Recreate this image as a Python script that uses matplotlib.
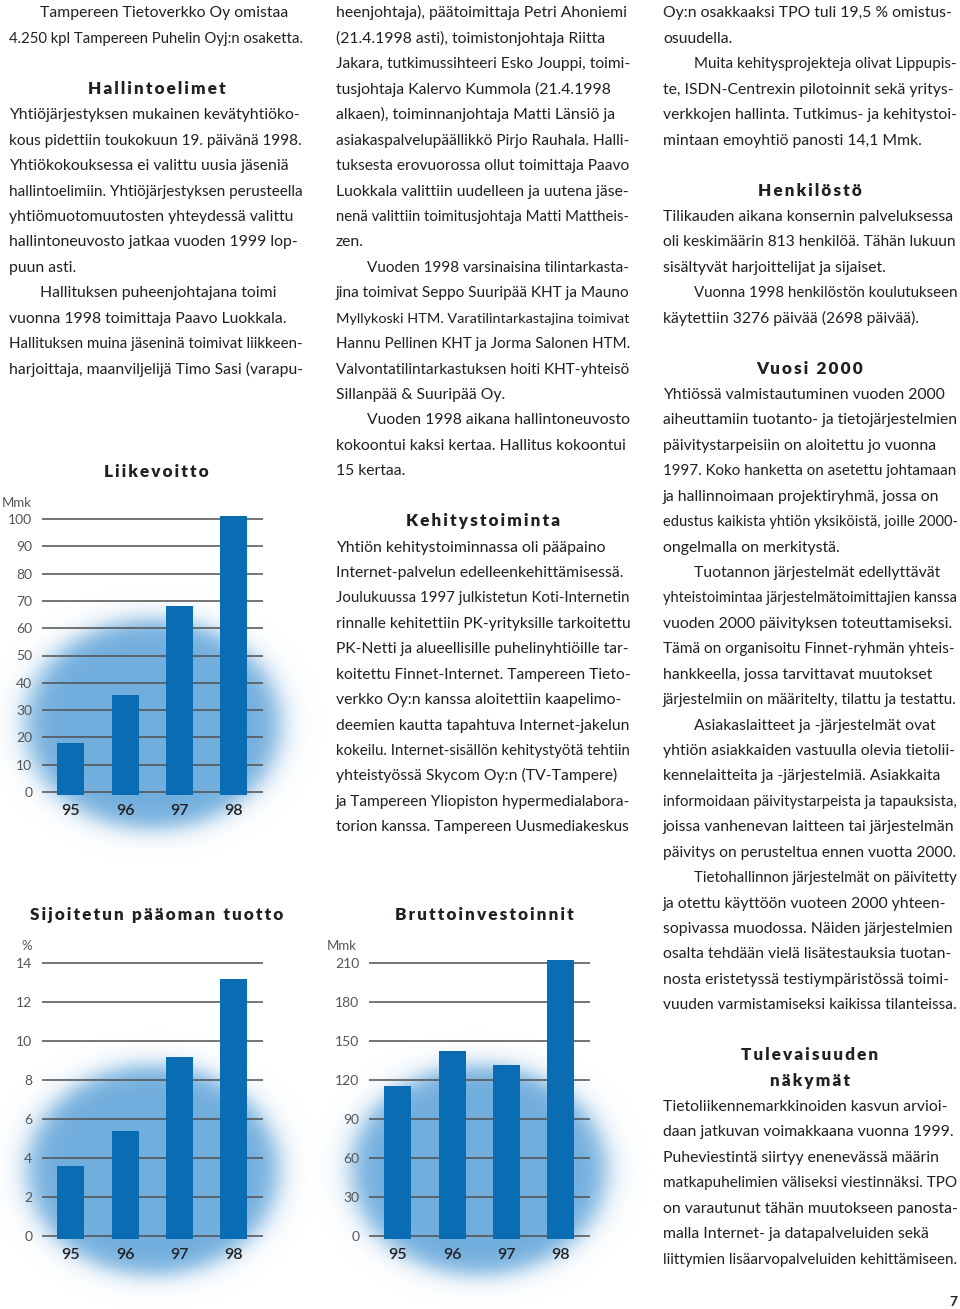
import numpy as np
import matplotlib
matplotlib.use('Agg')
import matplotlib.pyplot as plt

# ---------------- data ----------------
years = ['95', '96', '97', '98']
liikevoitto = [18.1, 35.7, 68.1, 101.2]
liike_ticks = [0, 10, 20, 30, 40, 50, 60, 70, 80, 90, 100]
sijoitetun = [3.6, 5.4, 9.2, 13.2]
roi_ticks = [0, 2, 4, 6, 8, 10, 12, 14]
brutto = [115.0, 142.6, 131.3, 212.0]
brutto_ticks = [0, 30, 60, 90, 120, 150, 180, 210]

# text columns: ('i' = indented paragraph start, 'l' = line, 'h' = heading, 'b' = blank)
col_left = [
    ('i', 'Tampereen Tietoverkko Oy omistaa'),
    ('l', '4.250 kpl Tampereen Puhelin Oyj:n osaketta.'),
    ('b', ''),
    ('h', 'Hallintoelimet'),
    ('l', 'Yhtiöjärjestyksen mukainen kevätyhtiöko-'),
    ('l', 'kous pidettiin toukokuun 19. päivänä 1998.'),
    ('l', 'Yhtiökokouksessa ei valittu uusia jäseniä'),
    ('l', 'hallintoelimiin. Yhtiöjärjestyksen perusteella'),
    ('l', 'yhtiömuotomuutosten yhteydessä valittu'),
    ('l', 'hallintoneuvosto jatkaa vuoden 1999 lop-'),
    ('l', 'puun asti.'),
    ('i', 'Hallituksen puheenjohtajana toimi'),
    ('l', 'vuonna 1998 toimittaja Paavo Luokkala.'),
    ('l', 'Hallituksen muina jäseninä toimivat liikkeen-'),
    ('l', 'harjoittaja, maanviljelijä Timo Sasi (varapu-'),
]
col_mid = [
    ('l', 'heenjohtaja), päätoimittaja Petri Ahoniemi'),
    ('l', '(21.4.1998 asti), toimistonjohtaja Riitta'),
    ('l', 'Jakara, tutkimussihteeri Esko Jouppi, toimi-'),
    ('l', 'tusjohtaja Kalervo Kummola (21.4.1998'),
    ('l', 'alkaen), toiminnanjohtaja Matti Länsiö ja'),
    ('l', 'asiakaspalvelupäällikkö Pirjo Rauhala. Halli-'),
    ('l', 'tuksesta erovuorossa ollut toimittaja Paavo'),
    ('l', 'Luokkala valittiin uudelleen ja uutena jäse-'),
    ('l', 'nenä valittiin toimitusjohtaja Matti Mattheis-'),
    ('l', 'zen.'),
    ('i', 'Vuoden 1998 varsinaisina tilintarkasta-'),
    ('l', 'jina toimivat Seppo Suuripää KHT ja Mauno'),
    ('l', 'Myllykoski HTM. Varatilintarkastajina toimivat'),
    ('l', 'Hannu Pellinen KHT ja Jorma Salonen HTM.'),
    ('l', 'Valvontatilintarkastuksen hoiti KHT-yhteisö'),
    ('l', 'Sillanpää & Suuripää Oy.'),
    ('i', 'Vuoden 1998 aikana hallintoneuvosto'),
    ('l', 'kokoontui kaksi kertaa. Hallitus kokoontui'),
    ('l', '15 kertaa.'),
    ('b', ''),
    ('h', 'Kehitystoiminta'),
    ('l', 'Yhtiön kehitystoiminnassa oli pääpaino'),
    ('l', 'Internet-palvelun edelleenkehittämisessä.'),
    ('l', 'Joulukuussa 1997 julkistetun Koti-Internetin'),
    ('l', 'rinnalle kehitettiin PK-yrityksille tarkoitettu'),
    ('l', 'PK-Netti ja alueellisille puhelinyhtiöille tar-'),
    ('l', 'koitettu Finnet-Internet. Tampereen Tieto-'),
    ('l', 'verkko Oy:n kanssa aloitettiin kaapelimo-'),
    ('l', 'deemien kautta tapahtuva Internet-jakelun'),
    ('l', 'kokeilu. Internet-sisällön kehitystyötä tehtiin'),
    ('l', 'yhteistyössä Skycom Oy:n (TV-Tampere)'),
    ('l', 'ja Tampereen Yliopiston hypermedialabora-'),
    ('l', 'torion kanssa. Tampereen Uusmediakeskus'),
]
col_right = [
    ('l', 'Oy:n osakkaaksi TPO tuli 19,5 % omistus-'),
    ('l', 'osuudella.'),
    ('i', 'Muita kehitysprojekteja olivat Lippupis-'),
    ('l', 'te, ISDN-Centrexin pilotoinnit sekä yritys-'),
    ('l', 'verkkojen hallinta. Tutkimus- ja kehitystoi-'),
    ('l', 'mintaan emoyhtiö panosti 14,1 Mmk.'),
    ('b', ''),
    ('h', 'Henkilöstö'),
    ('l', 'Tilikauden aikana konsernin palveluksessa'),
    ('l', 'oli keskimäärin 813 henkilöä. Tähän lukuun'),
    ('l', 'sisältyvät harjoittelijat ja sijaiset.'),
    ('i', 'Vuonna 1998 henkilöstön koulutukseen'),
    ('l', 'käytettiin 3276 päivää (2698 päivää).'),
    ('b', ''),
    ('h', 'Vuosi 2000'),
    ('l', 'Yhtiössä valmistautuminen vuoden 2000'),
    ('l', 'aiheuttamiin tuotanto- ja tietojärjestelmien'),
    ('l', 'päivitystarpeisiin on aloitettu jo vuonna'),
    ('l', '1997. Koko hanketta on asetettu johtamaan'),
    ('l', 'ja hallinnoimaan projektiryhmä, jossa on'),
    ('l', 'edustus kaikista yhtiön yksiköistä, joille 2000-'),
    ('l', 'ongelmalla on merkitystä.'),
    ('i', 'Tuotannon järjestelmät edellyttävät'),
    ('l', 'yhteistoimintaa järjestelmätoimittajien kanssa'),
    ('l', 'vuoden 2000 päivityksen toteuttamiseksi.'),
    ('l', 'Tämä on organisoitu Finnet-ryhmän yhteis-'),
    ('l', 'hankkeella, jossa tarvittavat muutokset'),
    ('l', 'järjestelmiin on määritelty, tilattu ja testattu.'),
    ('i', 'Asiakaslaitteet ja -järjestelmät ovat'),
    ('l', 'yhtiön asiakkaiden vastuulla olevia tietolii-'),
    ('l', 'kennelaitteita ja -järjestelmiä. Asiakkaita'),
    ('l', 'informoidaan päivitystarpeista ja tapauksista,'),
    ('l', 'joissa vanhenevan laitteen tai järjestelmän'),
    ('l', 'päivitys on perusteltua ennen vuotta 2000.'),
    ('i', 'Tietohallinnon järjestelmät on päivitetty'),
    ('l', 'ja otettu käyttöön vuoteen 2000 yhteen-'),
    ('l', 'sopivassa muodossa. Näiden järjestelmien'),
    ('l', 'osalta tehdään vielä lisätestauksia tuotan-'),
    ('l', 'nosta eristetyssä testiympäristössä toimi-'),
    ('l', 'vuuden varmistamiseksi kaikissa tilanteissa.'),
    ('b', ''),
    ('h', 'Tulevaisuuden'),
    ('h', 'näkymät'),
    ('l', 'Tietoliikennemarkkinoiden kasvun arvioi-'),
    ('l', 'daan jatkuvan voimakkaana vuonna 1999.'),
    ('l', 'Puheviestintä siirtyy enenevässä määrin'),
    ('l', 'matkapuhelimien väliseksi viestinnäksi. TPO'),
    ('l', 'on varautunut tähän muutokseen panosta-'),
    ('l', 'malla Internet- ja datapalveluiden sekä'),
    ('l', 'liittymien lisäarvopalveluiden kehittämiseen.'),
]
page_number = '7'

# ---------------- style ----------------
W, H = 960, 1309
BODY_FONT = ['Lato', 'DejaVu Sans']
TEXT_COLOR = '#231f20'
BAR_COLOR = '#0a6db3'
GRID_COLOR = '#505050'
TICK_COLOR = '#555555'
GLOW_RGB = (0.44, 0.68, 0.87)
BODY_SIZE = 11.3
HEAD_SIZE = 12.3
PITCH = 25.43
BASE0 = 17.5
COL_WIDTH = 295

fig = plt.figure(figsize=(W / 100, H / 100), dpi=100)
renderer = fig.canvas.get_renderer()

# background axes in pixel coordinates (holds glow + text)
bg = fig.add_axes([0, 0, 1, 1], zorder=-10)
bg.set_xlim(0, W)
bg.set_ylim(H, 0)
bg.axis('off')

glows = [(153, 724, 141, 116), (153, 1170, 139, 116), (479, 1170, 141, 116)]
yy, xx = np.mgrid[0:H, 0:W] + 0.5
alpha = np.zeros((H, W))
for cx, cy, rx, ry in glows:
    r = np.sqrt(((xx - cx) / rx) ** 2 + ((yy - cy) / ry) ** 2)
    alpha = np.maximum(alpha, 1.0 / (1.0 + np.exp((r - 0.9) / 0.055)))
img = np.zeros((H, W, 4))
img[..., 0], img[..., 1], img[..., 2] = GLOW_RGB
img[..., 3] = alpha
bg.imshow(img, extent=(0, W, H, 0), aspect='auto', interpolation='bilinear', zorder=0)


def spaced(s):
    return '\u2009'.join(s)


def draw_column(entries, x0, indent, center):
    right = x0 + COL_WIDTH
    for i, (kind, txt) in enumerate(entries):
        y = BASE0 + i * PITCH
        if kind == 'b':
            continue
        if kind == 'h':
            bg.text(center, y, spaced(txt), ha='center', va='baseline',
                    fontsize=HEAD_SIZE, fontweight='heavy', family=BODY_FONT,
                    color=TEXT_COLOR)
        else:
            x = indent if kind == 'i' else x0
            t = bg.text(x, y, txt, ha='left', va='baseline', fontsize=BODY_SIZE,
                        fontweight='normal', family=BODY_FONT, color=TEXT_COLOR)
            w = t.get_window_extent(renderer).width
            avail = right - x
            if w > avail:
                t.set_fontsize(BODY_SIZE * avail / w)


draw_column(col_left, 9, 40, 157)
draw_column(col_mid, 336, 367, 483)
draw_column(col_right, 663, 694, 810)
bg.text(957, 1306, page_number, ha='right', va='baseline', fontsize=10,
        fontweight='bold', family=BODY_FONT, color=TEXT_COLOR)


def bar_chart(values, ticks, x_left, x_right, y_zero, y_top, title, title_xy, unit, unit_xy):
    top = ticks[-1]
    lo, hi = -0.03 * top, 1.04 * top
    ppu = (y_zero - y_top) / top
    pb = y_zero - lo * ppu
    pt = y_zero - hi * ppu
    ax = fig.add_axes([x_left / W, 1 - pb / H, (x_right - x_left) / W, (pb - pt) / H])
    ax.set_facecolor('none')
    xs = np.arange(len(values))
    ax.bar(xs, np.array(values) + 0.011 * top, bottom=-0.011 * top, width=0.5,
           color=BAR_COLOR, zorder=3)
    ax.set_xlim(-0.53, 3.54)
    ax.set_ylim(lo, hi)
    ax.set_yticks(ticks)
    ax.set_yticklabels([str(t) for t in ticks])
    ax.set_xticks(xs)
    ax.set_xticklabels(years)
    ax.grid(axis='y', color=GRID_COLOR, linewidth=1.1, zorder=1)
    ax.grid(axis='x', visible=False)
    for sp in ax.spines.values():
        sp.set_visible(False)
    ax.tick_params(axis='y', length=0, pad=7, labelsize=10, labelcolor=TICK_COLOR)
    ax.tick_params(axis='x', length=0, pad=3, labelsize=11.5, labelcolor=TEXT_COLOR)
    for lab in ax.get_yticklabels():
        lab.set_family(BODY_FONT)
        lab.set_fontweight('normal')
    for lab in ax.get_xticklabels():
        lab.set_family(BODY_FONT)
        lab.set_fontweight('semibold')
    bg.text(title_xy[0], title_xy[1], spaced(title), ha='center', va='baseline',
            fontsize=HEAD_SIZE, fontweight='heavy', family=BODY_FONT, color=TEXT_COLOR)
    bg.text(unit_xy[0], unit_xy[1], unit, ha=unit_xy[2], va='center',
            fontsize=9.5, fontweight='normal', family=BODY_FONT, color=TICK_COLOR)
    return ax


bar_chart(liikevoitto, liike_ticks, 42, 263, 792, 519,
          'Liikevoitto', (156, 477), 'Mmk', (2, 503, 'left'))
bar_chart(sijoitetun, roi_ticks, 42, 263, 1236, 963,
          'Sijoitetun pääoman tuotto', (157, 920), '%', (27, 946, 'center'))
bar_chart(brutto, brutto_ticks, 369, 590, 1236, 963,
          'Bruttoinvestoinnit', (484, 920), 'Mmk', (327, 946, 'left'))

fig.savefig('out.png', dpi=100, facecolor='white')
